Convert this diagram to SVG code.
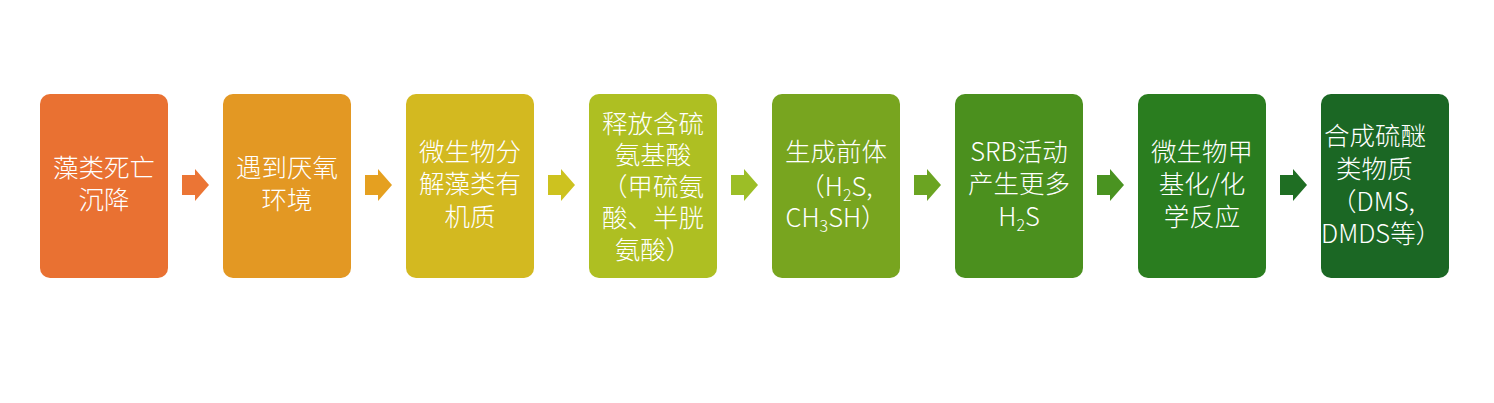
<svg xmlns="http://www.w3.org/2000/svg" width="1494" height="403" viewBox="0 0 1494 403">
<style>
.box{stroke:none}
.t{font-family:"Noto Sans CJK SC","Noto Sans",sans-serif;font-size:25.5px;font-weight:300;fill:#ffffff;text-anchor:middle}
.s{text-anchor:start}
.sub{font-size:16px}
</style>
<defs>
<path id="arr" d="M0,-10 H13 V-16 L27,0 L13,16 V10 H0 Z"/>
</defs>
<rect width="1494" height="403" fill="#ffffff"/>
<g id="connectors">
<use href="#arr" x="182" y="185" fill="#EB7535"/>
<use href="#arr" x="365" y="185" fill="#E5A020"/>
<use href="#arr" x="548" y="185" fill="#CDC21F"/>
<use href="#arr" x="731" y="185" fill="#9CBE26"/>
<use href="#arr" x="914" y="185" fill="#6BA422"/>
<use href="#arr" x="1097" y="185" fill="#4A9321"/>
<use href="#arr" x="1280" y="185" fill="#1F6E23"/>
</g>
<g id="n1"><rect class="box" x="40" y="94" width="128" height="184" rx="10" fill="#E97132"/>
<text class="t" x="104" y="177">藻类死亡</text><text class="t" x="104" y="209">沉降</text></g>
<g id="n2"><rect class="box" x="223" y="94" width="128" height="184" rx="10" fill="#E39823"/>
<text class="t" x="287" y="177">遇到厌氧</text><text class="t" x="287" y="209">环境</text></g>
<g id="n3"><rect class="box" x="406" y="94" width="128" height="184" rx="10" fill="#D3B920"/>
<text class="t" x="470" y="160.5">微生物分</text><text class="t" x="470" y="193">解藻类有</text><text class="t" x="470" y="225.5">机质</text></g>
<g id="n4"><rect class="box" x="589" y="94" width="128" height="184" rx="10" fill="#AEBF22"/>
<text class="t" x="653" y="132.5">释放含硫</text><text class="t" x="653" y="164">氨基酸</text><text class="t" x="653" y="195.5">（甲硫氨</text><text class="t" x="653" y="227">酸、半胱</text><text class="t" x="653" y="258.5">氨酸）</text></g>
<g id="n5"><rect class="box" x="772" y="94" width="128" height="184" rx="10" fill="#78A51F"/>
<text class="t" x="836" y="160.5">生成前体</text>
<text class="t" x="836" y="195.5">（H<tspan class="sub" dy="5">2</tspan><tspan dy="-5">S,</tspan></text>
<text class="t" x="836" y="227">CH<tspan class="sub" dy="5">3</tspan><tspan dy="-5">SH）</tspan></text></g>
<g id="n6"><rect class="box" x="955" y="94" width="128" height="184" rx="10" fill="#4B901E"/>
<text class="t" x="1019" y="160.5">SRB活动</text><text class="t" x="1019" y="193">产生更多</text>
<text class="t" x="1019" y="225.5">H<tspan class="sub" dy="5">2</tspan><tspan dy="-5">S</tspan></text></g>
<g id="n7"><rect class="box" x="1138" y="94" width="128" height="184" rx="10" fill="#2A7D1F"/>
<text class="t" x="1202" y="160.5">微生物甲</text><text class="t" x="1202" y="193">基化/化</text><text class="t" x="1202" y="225.5">学反应</text></g>
<g id="n8"><rect class="box" x="1321" y="94" width="128" height="184" rx="10" fill="#1B6724"/>
<text class="t s" x="1324" y="145">合成硫醚</text><text class="t s" x="1336" y="178">类物质</text>
<text class="t s" x="1331" y="211">（DMS,</text><text class="t s" x="1321" y="243">DMDS等）</text></g>
</svg>
